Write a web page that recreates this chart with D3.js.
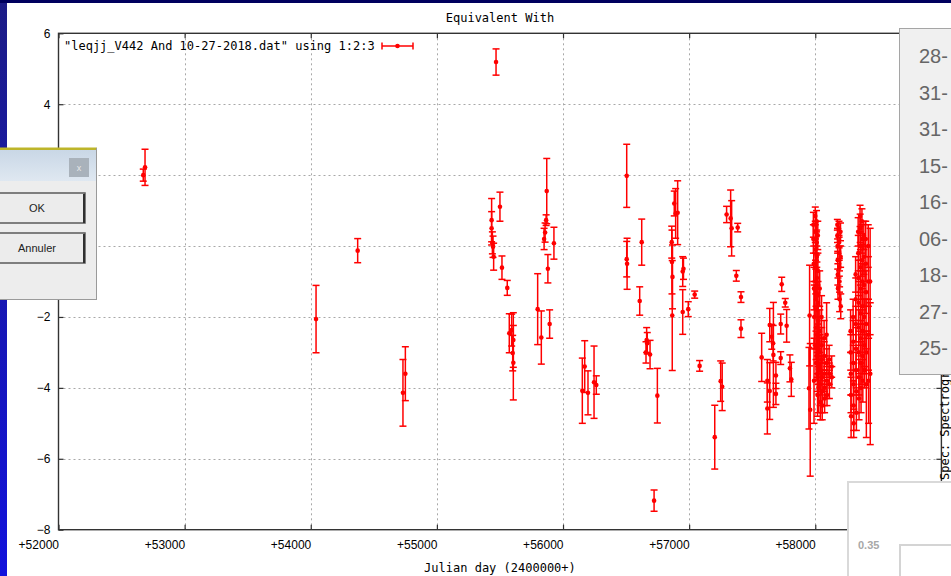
<!DOCTYPE html>
<html>
<head>
<meta charset="utf-8">
<script src="https://cdn.jsdelivr.net/npm/d3@7"></script>
<style>
  html, body { margin: 0; padding: 0; background: #ffffff; overflow: hidden; }
  svg { display: block; }
</style>
</head>
<body>
<script>
// Equivalent width of V442 And vs Julian day, each entry [JD-2400000, EW, error]
const season2003 = [[52686, 2.22, 0.51], [52672, 2.00, 0.17]];
const season2006 = [[54042, -2.06, 0.95], [54372, -0.13, 0.34], [54750, -3.60, 0.76], [54731, -4.14, 0.94]];
const season2010 = [
  [55469, 5.19, 0.37], [55434, 0.73, 0.61], [55434, 0.50, 0.47], [55440, 0.09, 0.31],
  [55445, -0.02, 0.30], [55450, -0.30, 0.38], [55500, 1.11, 0.41], [55516, -0.61, 0.33],
  [55558, -1.18, 0.21], [55574, -2.46, 0.55], [55593, -2.37, 0.45], [55606, -2.65, 0.77],
  [55601, -3.02, 0.50], [55606, -3.29, 1.05]
];
const season2011 = [
  [55799, -1.78, 1.00], [55828, -2.58, 0.75], [55871, 1.55, 0.92], [55866, 0.73, 0.15],
  [55858, 0.38, 0.27], [55850, 0.20, 0.30], [55880, -0.64, 0.40], [55928, 0.08, 0.45],
  [55894, -2.20, 0.40]
];
const season2012 = [[56153, -4.08, 0.92], [56172, -3.40, 0.73], [56198, -4.14, 0.62], [56246, -3.84, 1.02], [56264, -3.92, 0.26]];
const season2013 = [
  [56505, 1.98, 0.89], [56505, -0.37, 0.50], [56508, -0.50, 0.72], [56624, 0.11, 0.65],
  [56608, -1.55, 0.40], [56663, -2.65, 0.35], [56658, -3.00, 0.30], [56668, -2.74, 0.30],
  [56690, -3.06, 0.40], [56748, -4.22, 0.77], [56722, -7.18, 0.30]
];
const season2014 = [
  [56862, 0.11, 0.45], [56864, -0.45, 0.90], [56866, -1.96, 1.55], [56868, -0.87, 0.90],
  [56882, 1.20, 0.35], [56893, 0.92, 0.70], [56909, 0.94, 0.90], [56949, -0.72, 0.42],
  [56955, -0.64, 0.30], [56949, -1.86, 0.63], [56993, -1.78, 0.21], [57044, -1.37, 0.10],
  [57083, -3.38, 0.15]
];
const season2015 = [
  [57203, -5.39, 0.90], [57250, -3.81, 0.57], [57262, -3.97, 0.67], [57297, 0.89, 0.23],
  [57329, 0.78, 0.80], [57337, 0.50, 0.78], [57385, 0.52, 0.12], [57374, -0.84, 0.15],
  [57411, -1.44, 0.15], [57411, -2.33, 0.25]
];
const season2016 = [
  [57575, -3.14, 0.68], [57620, -3.80, 0.60], [57620, -4.58, 0.72], [57639, -4.09, 0.80],
  [57639, -2.23, 0.47], [57655, -2.56, 0.35], [57666, -2.74, 0.50], [57668, -3.07, 1.48],
  [57688, -3.65, 0.37], [57688, -4.17, 0.30], [57726, -2.20, 0.28], [57726, -3.16, 0.18],
  [57734, -1.08, 0.20], [57762, -1.60, 0.12], [57773, -2.25, 0.46], [57799, -3.45, 0.38],
  [57810, -3.76, 0.48]
];
const season2017 = [
  [57955, -1.96, 1.42], [57960, -4.62, 1.87], [57950, -4.01, 1.15],
  [57985, 0.60, 0.35], [57985, 0.20, 0.40], [57988, -0.50, 0.50], [57990, -1.20, 0.60], [57992, -2.00, 0.90], [57990, -3.80, 1.20],
  [58000, 0.85, 0.25], [58000, 0.40, 0.30], [58002, -0.10, 0.30], [58003, -0.60, 0.40], [58004, -1.00, 0.35],
  [58005, -1.50, 0.50], [58006, -2.30, 0.60], [58006, -2.80, 0.40], [58007, -3.30, 0.50],
  [58010, 0.70, 0.30], [58011, 0.10, 0.35], [58012, -0.30, 0.30], [58013, -0.90, 0.45], [58014, -1.40, 0.30],
  [58015, -1.80, 0.50], [58016, -2.50, 0.50], [58016, -3.10, 0.60], [58017, -3.60, 0.50], [58018, -4.20, 0.60],
  [58020, 0.30, 0.40], [58021, -0.70, 0.50], [58022, -1.60, 0.60], [58023, -2.10, 0.40], [58024, -2.70, 0.70],
  [58025, -3.40, 0.50], [58026, -4.00, 0.70],
  [58035, -1.20, 0.50], [58036, -2.40, 0.60], [58037, -3.00, 0.50], [58038, -3.50, 0.40], [58039, -3.90, 0.60], [58040, -4.40, 0.50],
  [58050, -2.00, 0.60], [58051, -2.80, 0.50], [58052, -3.20, 0.60], [58053, -3.70, 0.50], [58054, -4.10, 0.60], [58055, -4.50, 0.40],
  [58070, -2.60, 0.50], [58071, -3.10, 0.40], [58072, -3.60, 0.50], [58073, -4.00, 0.50], [58074, -4.30, 0.40],
  [58090, -2.50, 0.90], [58091, -3.30, 0.40], [58092, -3.80, 0.50], [58093, -4.20, 0.30],
  [58110, -3.20, 0.40], [58111, -3.60, 0.30], [58112, -3.90, 0.40],
  [58130, -3.40, 0.30], [58131, -3.70, 0.30]
];
const season2018a = [
  [58175, 0.60, 0.15], [58176, 0.30, 0.20], [58177, 0.00, 0.20], [58178, -0.40, 0.25], [58179, -0.80, 0.30], [58180, -1.20, 0.30],
  [58188, 0.50, 0.20], [58189, 0.10, 0.15], [58190, -0.20, 0.20], [58191, -0.60, 0.25], [58192, -1.00, 0.30], [58193, -1.50, 0.35],
  [58200, 0.40, 0.25], [58201, -0.30, 0.30], [58202, -1.70, 0.35]
];
const season2018b = [
  [58280, -2.40, 0.60], [58281, -3.00, 0.50], [58282, -3.60, 0.60], [58283, -4.20, 0.50], [58284, -4.80, 0.60],
  [58300, -2.00, 0.50], [58301, -2.70, 0.60], [58302, -3.30, 0.50], [58303, -3.90, 0.60], [58304, -4.50, 0.70], [58305, -5.00, 0.40],
  [58320, -0.80, 0.50], [58321, -1.50, 0.60], [58322, -2.20, 0.50], [58323, -2.90, 0.60], [58324, -3.50, 0.50], [58325, -4.10, 0.60], [58326, -4.70, 0.50],
  [58340, 0.40, 0.40], [58341, -0.20, 0.50], [58342, -0.90, 0.50], [58343, -1.60, 0.60], [58344, -2.30, 0.50], [58345, -3.00, 0.60], [58346, -3.70, 0.50], [58347, -4.30, 0.60],
  [58355, 0.85, 0.30], [58356, 0.50, 0.40], [58357, 0.00, 0.40], [58358, -0.60, 0.50], [58359, -1.20, 0.50], [58360, -1.90, 0.60], [58361, -2.60, 0.50], [58362, -3.30, 0.60], [58363, -4.00, 0.70],
  [58370, 0.70, 0.35], [58371, 0.20, 0.40], [58372, -0.40, 0.45], [58373, -1.00, 0.50], [58374, -1.70, 0.50], [58375, -2.40, 0.60], [58376, -3.10, 0.50], [58377, -3.80, 0.60],
  [58385, 0.30, 0.40], [58386, -0.30, 0.50], [58387, -1.10, 0.60], [58388, -2.00, 0.50], [58389, -2.80, 0.60], [58390, -3.50, 0.50],
  [58400, 0.20, 0.50], [58401, -0.50, 0.50], [58402, -1.30, 0.60], [58403, -2.20, 0.70], [58404, -3.00, 0.60], [58405, -3.90, 1.50],
  [58420, 0.00, 0.60], [58421, -1.00, 0.70], [58422, -2.50, 1.00], [58423, -3.80, 1.20],
  [58435, -1.00, 1.50], [58436, -3.60, 2.00]
];

const xTicks = [52000, 53000, 54000, 55000, 56000, 57000, 58000, 59000];
const yTicks = [-8, -6, -4, -2, 0, 2, 4, 6];
const listLabels = ["28-", "31-", "31-", "15-", "16-", "06-", "18-", "27-", "25-"];

const observations = [].concat(season2003, season2006, season2010, season2011, season2012,
  season2013, season2014, season2015, season2016, season2017, season2018a, season2018b);

const W = 951, H = 576;
const svg = d3.select("body").append("svg").attr("width", W).attr("height", H);

// desktop backdrop and window frame
const defs = svg.append("defs");
const sideGrad = defs.append("linearGradient").attr("id", "side").attr("x1", 0).attr("y1", 0).attr("x2", 0).attr("y2", 1);
sideGrad.append("stop").attr("offset", 0).attr("stop-color", "#1c1c86");
sideGrad.append("stop").attr("offset", 1).attr("stop-color", "#1212dc");
svg.append("rect").attr("x", 0).attr("y", 0).attr("width", W).attr("height", H).attr("fill", "url(#side)");
svg.append("rect").attr("x", 0).attr("y", 0).attr("width", W).attr("height", 3).attr("fill", "#00005e");
svg.append("rect").attr("x", 7).attr("y", 3).attr("width", W - 7).attr("height", H - 3).attr("fill", "#ffffff");

// plot area
const x = d3.scaleLinear().domain([52000, 59000]).range([58.5, 941.4]);
const y = d3.scaleLinear().domain([-8, 6]).range([529.7, 33.3]);
const mono = "'DejaVu Sans Mono', monospace";
const sans = "'Liberation Sans', Arial, sans-serif";

// dialog box extent on the left; tick labels under it are not drawn
const dialogTop = 148, dialogBottom = 300;
const yFmt = y.tickFormat();
const yLabel = d => (y(d) > dialogTop && y(d) < dialogBottom) ? "" : yFmt(d);

// dotted grid
const grid = svg.append("g").attr("stroke", "#a8a8a8").attr("stroke-width", 1).attr("stroke-dasharray", "2,3");
grid.selectAll("line.gx").data(xTicks.slice(1, -1)).join("line")
  .attr("x1", d => Math.round(x(d)) + 0.5).attr("x2", d => Math.round(x(d)) + 0.5)
  .attr("y1", y(6)).attr("y2", y(-8));
grid.selectAll("line.gy").data(yTicks.slice(1, -1)).join("line")
  .attr("x1", x(52000)).attr("x2", x(59000))
  .attr("y1", d => Math.round(y(d)) + 0.5).attr("y2", d => Math.round(y(d)) + 0.5);

// axes with inward ticks
const axisStyle = g => {
  g.select(".domain").remove();
  g.selectAll(".tick line").attr("stroke", "#303030").attr("stroke-width", 1.2);
  g.selectAll(".tick text").attr("fill", "#000").attr("font-family", sans).attr("font-size", 12);
};
svg.append("g").attr("transform", `translate(0,${y(-8)})`)
  .call(d3.axisBottom(x).tickValues(xTicks).tickSize(-5).tickPadding(11).tickFormat(d => "+" + d))
  .call(axisStyle)
  .call(g => g.selectAll(".tick text").attr("text-anchor", "end").attr("x", 0));
svg.append("g").attr("transform", `translate(0,${y(6)})`)
  .call(d3.axisTop(x).tickValues(xTicks).tickSize(-5).tickFormat(""))
  .call(axisStyle);
svg.append("g").attr("transform", `translate(${x(52000)},0)`)
  .call(d3.axisLeft(y).tickValues(yTicks).tickSize(-5).tickPadding(8).tickFormat(yLabel))
  .call(axisStyle);
svg.append("g").attr("transform", `translate(${x(59000)},0)`)
  .call(d3.axisRight(y).tickValues(yTicks).tickSize(-5).tickFormat(""))
  .call(axisStyle);

// frame
svg.append("rect").attr("x", x(52000)).attr("y", y(6))
  .attr("width", x(59000) - x(52000)).attr("height", y(-8) - y(6))
  .attr("fill", "none").attr("stroke", "#333").attr("stroke-width", 1.4);

// titles
svg.append("text").attr("x", (x(52000) + x(59000)) / 2).attr("y", 22)
  .attr("text-anchor", "middle").attr("font-family", mono).attr("font-size", 12).text("Equivalent With");
svg.append("text").attr("x", (x(52000) + x(59000)) / 2).attr("y", 572)
  .attr("text-anchor", "middle").attr("font-family", mono).attr("font-size", 12).text("Julian day (2400000+)");
svg.append("text").attr("transform", `translate(949,480) rotate(-90)`)
  .attr("font-family", mono).attr("font-size", 12).text("Spec: Spectrograph");

// key
svg.append("text").attr("x", 64).attr("y", 50).attr("font-family", mono).attr("font-size", 12)
  .text('"leqjj_V442 And 10-27-2018.dat" using 1:2:3');
const key = svg.append("g").attr("stroke", "#ff0000").attr("stroke-width", 1.5);
key.append("line").attr("x1", 382).attr("x2", 413).attr("y1", 46).attr("y2", 46);
key.append("line").attr("x1", 382).attr("x2", 382).attr("y1", 42.5).attr("y2", 49.5);
key.append("line").attr("x1", 413).attr("x2", 413).attr("y1", 42.5).attr("y2", 49.5);
svg.append("circle").attr("cx", 397.5).attr("cy", 46).attr("r", 2.3).attr("fill", "#ff0000");

// error bars
const bars = svg.append("g").attr("stroke", "#ff0000").attr("stroke-width", 1.5);
const obs = bars.selectAll("g").data(observations).join("g");
obs.append("line").attr("x1", d => x(d[0])).attr("x2", d => x(d[0]))
  .attr("y1", d => y(d[1] + d[2])).attr("y2", d => y(d[1] - d[2]));
obs.append("line").attr("x1", d => x(d[0]) - 3.5).attr("x2", d => x(d[0]) + 3.5)
  .attr("y1", d => y(d[1] + d[2])).attr("y2", d => y(d[1] + d[2]));
obs.append("line").attr("x1", d => x(d[0]) - 3.5).attr("x2", d => x(d[0]) + 3.5)
  .attr("y1", d => y(d[1] - d[2])).attr("y2", d => y(d[1] - d[2]));
svg.append("g").attr("fill", "#ff0000").selectAll("circle").data(observations).join("circle")
  .attr("cx", d => x(d[0])).attr("cy", d => y(d[1])).attr("r", 2.3);

// confirmation dialog on the left
const dlg = svg.append("g");
const tbGrad = defs.append("linearGradient").attr("id", "tb").attr("x1", 0).attr("y1", 0).attr("x2", 0).attr("y2", 1);
tbGrad.append("stop").attr("offset", 0).attr("stop-color", "#c9d7e6");
tbGrad.append("stop").attr("offset", 1).attr("stop-color", "#dfe8f1");
dlg.append("rect").attr("x", 0).attr("y", dialogTop).attr("width", 97).attr("height", dialogBottom - dialogTop).attr("fill", "#ededed");
dlg.append("rect").attr("x", 0).attr("y", 150).attr("width", 96).attr("height", 31).attr("fill", "url(#tb)");
dlg.append("rect").attr("x", 0).attr("y", 147.5).attr("width", 97).attr("height", 2.5).attr("fill", "#bdb52a");
dlg.append("line").attr("x1", 96.5).attr("x2", 96.5).attr("y1", dialogTop).attr("y2", dialogBottom).attr("stroke", "#9a9a9a");
dlg.append("line").attr("x1", 0).attr("x2", 97).attr("y1", dialogBottom - 0.5).attr("y2", dialogBottom - 0.5).attr("stroke", "#9a9a9a");
dlg.append("rect").attr("x", 69).attr("y", 158).attr("width", 20).attr("height", 19).attr("fill", "#a9b2bb");
dlg.append("text").attr("x", 79).attr("y", 171).attr("text-anchor", "middle").attr("font-family", sans)
  .attr("font-size", 9).attr("fill", "#e8e8e8").text("x");
[["OK", 193], ["Annuler", 233]].forEach(([label, top]) => {
  dlg.append("rect").attr("x", -4).attr("y", top).attr("width", 89).attr("height", 30)
    .attr("fill", "#ececec").attr("stroke", "#5a5a5a").attr("stroke-width", 1.5);
  dlg.append("line").attr("x1", 84).attr("x2", 84).attr("y1", top + 1).attr("y2", top + 30)
    .attr("stroke", "#303030").attr("stroke-width", 2);
  dlg.append("text").attr("x", 37).attr("y", top + 19).attr("text-anchor", "middle")
    .attr("font-family", sans).attr("font-size", 11).attr("fill", "#222").text(label);
});

// date list panel on the right
const list = svg.append("g");
list.append("rect").attr("x", 899.5).attr("y", 28.5).attr("width", 60).attr("height", 346)
  .attr("fill", "#f0f0f0").attr("stroke", "#a5a5a5");
list.selectAll("text").data(listLabels).join("text")
  .attr("x", 919).attr("y", (d, i) => 63 + i * 36.5)
  .attr("font-family", sans).attr("font-size", 20).attr("fill", "#666").text(d => d);

// spectrum preview panel bottom-right
const prev = svg.append("g");
prev.append("rect").attr("x", 848).attr("y", 482).attr("width", 110).attr("height", 100)
  .attr("fill", "#ffffff").attr("stroke", "#d9d9d9").attr("stroke-width", 2);
prev.append("text").attr("x", 858).attr("y", 549).attr("font-family", sans).attr("font-size", 11)
  .attr("font-weight", "bold").attr("fill", "#a8a8a8").text("0.35");
prev.append("rect").attr("x", 900).attr("y", 545).attr("width", 60).attr("height", 40)
  .attr("fill", "#ffffff").attr("stroke", "#d4d4d4").attr("stroke-width", 2);
</script>
</body>
</html>
